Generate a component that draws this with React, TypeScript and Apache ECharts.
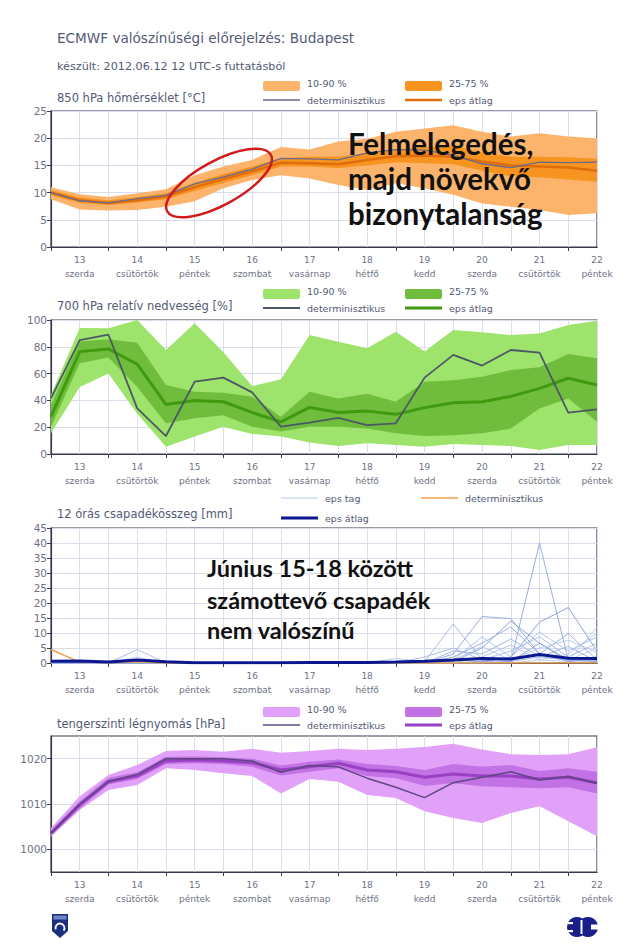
import React, { useEffect, useRef } from "react";
import * as echarts from "echarts";

// 12-hourly time steps from 2012.06.12 12 UTC
const timeSteps = [
  "06.12 12", "06.13 00", "06.13 12", "06.14 00", "06.14 12", "06.15 00", "06.15 12",
  "06.16 00", "06.16 12", "06.17 00", "06.17 12", "06.18 00", "06.18 12", "06.19 00",
  "06.19 12", "06.20 00", "06.20 12", "06.21 00", "06.21 12", "06.22 00",
];
const dayNumbers = ["13", "14", "15", "16", "17", "18", "19", "20", "21", "22"];
const dayNames = ["szerda", "csütörtök", "péntek", "szombat", "vasárnap", "hétfő", "kedd", "szerda", "csütörtök", "péntek"];

// 850 hPa temperature [°C]
const tempP10 = [8.8, 6.9, 6.7, 6.8, 7.4, 8.4, 10.8, 12.3, 13.2, 12.6, 11.4, 10.5, 11.7, 10.8, 9.6, 8.0, 7.4, 6.8, 5.9, 6.2];
const tempP90 = [11.0, 9.7, 9.2, 9.9, 10.6, 13.2, 14.8, 16.0, 18.4, 17.9, 19.4, 19.9, 21.2, 21.8, 22.4, 21.2, 20.3, 20.9, 20.3, 20.0];
const tempP25 = [9.5, 8.1, 7.7, 8.2, 8.8, 10.3, 11.8, 13.2, 14.8, 14.8, 14.5, 15.0, 15.6, 15.4, 15.2, 14.0, 13.0, 12.8, 12.4, 12.0];
const tempP75 = [10.5, 9.1, 8.6, 9.2, 9.9, 11.8, 13.4, 14.8, 16.3, 16.6, 16.6, 17.3, 18.0, 18.3, 18.7, 17.4, 16.6, 16.6, 16.5, 16.2];
const tempMean = [10.0, 8.6, 8.1, 8.6, 9.3, 11.0, 12.5, 13.9, 15.5, 15.4, 15.2, 16.0, 16.7, 16.8, 16.6, 15.7, 15.0, 14.8, 14.6, 14.0];
const tempDet = [10.0, 8.5, 8.1, 8.9, 9.5, 11.6, 12.9, 14.3, 16.3, 16.2, 16.0, 17.3, 17.9, 17.8, 16.9, 15.3, 14.6, 15.6, 15.5, 15.6];

// 700 hPa relative humidity [%]
const rhP10 = [15.4, 50, 60, 30, 5.5, 13, 20.4, 15, 13, 8.5, 6, 8, 6.7, 5.5, 7.5, 6.7, 6, 3, 6.7, 6.7];
const rhP90 = [44, 94, 93.8, 100, 77.6, 97.5, 76, 50.7, 55.7, 88.8, 83.8, 78.9, 91.3, 76.4, 92.5, 90.8, 88.8, 90, 96.3, 99.5];
const rhP25 = [20.4, 67.7, 72, 50, 23, 26.6, 29, 20.4, 16.7, 20.4, 20.4, 19, 15.4, 13.4, 14, 15.4, 19, 34, 41.5, 24];
const rhP75 = [36.6, 84, 85.6, 83, 51.5, 46.5, 45.8, 42.8, 27.8, 46.5, 41.5, 45, 39, 54, 55, 57.7, 62.7, 64.7, 74.6, 71.4];
const rhMean = [27.9, 76.4, 78.4, 67, 37, 40, 39, 31, 24, 34.8, 31, 32, 29.6, 34.6, 38.3, 39, 43, 49, 56.5, 51.5];
const rhDet = [41.5, 85, 89, 34, 13.4, 54, 57, 46, 20.4, 23.4, 27, 21.6, 22.9, 57, 74, 66, 77.6, 75.6, 30.8, 33.3];

// 12-hour precipitation [mm]
const precipMean = [0.6, 0.7, 0.3, 1.0, 0.4, 0.1, 0.1, 0.1, 0.1, 0.2, 0.2, 0.2, 0.3, 0.6, 1.0, 1.5, 1.3, 2.8, 1.6, 1.5];
const precipDet = [4.5, 0.3, 0.1, 0.4, 0, 0, 0, 0, 0, 0, 0, 0, 0, 0, 0, 0, 0, 0, 0, 0];
const member01 = [0, 0, 0, 0, 0, 0, 0, 0, 0, 0, 0, 0, 0, 0, 0, 0, 0.5, 40, 1, 0.5];
const member02 = [0, 0, 0, 0, 0, 0, 0, 0, 0, 0, 0, 0, 0, 0.5, 13, 1, 0.5, 2, 1, 0.5];
const member03 = [0, 0, 0, 0, 0, 0, 0, 0, 0, 0, 0, 0, 0, 0, 3, 15.5, 14.8, 3, 0.5, 1];
const member04 = [0, 0, 0, 0, 0, 0, 0, 0, 0, 0, 0, 0, 0, 0, 0, 0.5, 2, 13.6, 18.5, 4];
const member05 = [0, 0, 0, 0, 0, 0, 0, 0, 0, 0, 0, 0, 0, 0, 0, 0, 0, 1, 0.5, 12];
const member06 = [0, 0, 0, 0, 0, 0, 0, 0, 0, 0, 0, 0, 0, 0, 0.5, 5, 14, 6.6, 1, 2];
const member07 = [0, 0, 0, 0, 0, 0, 0, 0, 0, 0, 0, 0, 0, 0, 1, 8.7, 2, 10.3, 4, 8.7];
const member08 = [0, 0, 0, 0, 0, 0, 0, 0, 0, 0, 0, 0, 0, 0, 2, 6.6, 12, 3, 9.8, 1];
const member09 = [0, 0, 0, 4.5, 0, 0, 0, 0, 0, 0, 0, 0, 0, 2, 5, 1, 4, 8.7, 2, 6.6];
const member10 = [0, 0, 0, 0, 0, 0, 0, 0, 0, 0, 0, 0, 1.5, 0.5, 1, 5.5, 1, 5, 7.6, 3.5];
const member11 = [0, 0, 0, 0, 0, 0, 0, 0, 0, 0, 0, 0, 0, 0, 4, 3, 8, 2, 5.5, 0.5];
const member12 = [0, 0, 0, 0, 0, 0, 0, 0, 0, 0, 0, 0, 0, 0, 0, 2, 6, 1, 3, 10];
const member13 = [0, 0, 0, 0, 0, 0, 0, 0, 0, 0, 0, 0, 0, 0.3, 1, 0.5, 0.5, 6.6, 0.5, 2];
const member14 = [0, 0, 0, 2, 0, 0, 0, 0, 0, 0, 0, 0.5, 0, 0, 0, 0, 1, 3, 1, 5];
const precipMembers = [member01, member02, member03, member04, member05, member06, member07,
  member08, member09, member10, member11, member12, member13, member14];
const memberColors = ["#8ea6dc", "#9fb6e6", "#8ea6dc", "#7f9ad6", "#b7c9ef", "#7f9ad6", "#a9bdea",
  "#92aadf", "#a3b8e8", "#b3c6ee", "#9ab1e3", "#aec2ec", "#8ca5dc", "#bccdf0"];

// Mean sea level pressure [hPa]
const presP10 = [1002.8, 1008.7, 1013.1, 1014.2, 1017.9, 1017.5, 1016.8, 1016.2, 1012.3, 1015.5, 1014.9, 1012, 1011.3, 1008.4, 1006.9, 1005.8, 1008, 1009.5, 1006.2, 1002.9];
const presP90 = [1004.7, 1011.7, 1016.4, 1018.6, 1021.7, 1021.9, 1021.5, 1022.2, 1021.3, 1021.7, 1022.2, 1021.9, 1022.2, 1022.6, 1023.3, 1022, 1021, 1020.8, 1021, 1022.5];
const presP25 = [1003, 1009, 1014.3, 1015.5, 1018.8, 1019, 1018.8, 1018.2, 1016.3, 1017.1, 1017.9, 1016.2, 1015.7, 1014, 1014.6, 1013.9, 1013.7, 1013.5, 1013.7, 1012.3];
const presP75 = [1004.2, 1010.6, 1015.8, 1017, 1020.4, 1020.5, 1020.3, 1020, 1018.5, 1019.3, 1019.8, 1018.8, 1018.4, 1017.5, 1018.8, 1018.2, 1018.6, 1017.3, 1017.9, 1017.1];
const presMean = [1003.6, 1009.8, 1014.9, 1016.2, 1019.5, 1019.7, 1019.5, 1019.1, 1017.5, 1018.2, 1019, 1017.5, 1017.1, 1015.9, 1016.6, 1016.2, 1016.2, 1015.5, 1015.9, 1014.7];
const presDet = [1003.5, 1010, 1015, 1016.5, 1020, 1020, 1020, 1019.5, 1017, 1018.5, 1018.2, 1015.7, 1013.7, 1011.4, 1014.7, 1015.9, 1017.1, 1015.3, 1016.1, 1014.5];
const presLabels = [1000, 1010, 1020];

const FONT = "DejaVu Sans";
const TXT = "#535a74";
const AX = "#3a3a4c";
const GRIDC = "#dcdcec";
const NAVY = "#1b1f8a";

const panels = [
  { top: 111, height: 136, min: 0, max: 25, interval: 5 },
  { top: 320, height: 134, min: 0, max: 100, interval: 20 },
  { top: 528, height: 135, min: 0, max: 45, interval: 5 },
  { top: 736, height: 136, min: 995, max: 1025, interval: 5 },
];

function band(g: number, lower: number[], upper: number[], color: string, stack: string) {
  return [
    {
      type: "line", xAxisIndex: g, yAxisIndex: g, data: lower, stack, symbol: "none",
      lineStyle: { opacity: 0 }, silent: true, z: 2,
    },
    {
      type: "line", xAxisIndex: g, yAxisIndex: g, data: upper.map((u, i) => +(u - lower[i]).toFixed(2)),
      stack, symbol: "none", lineStyle: { opacity: 0 }, areaStyle: { color, opacity: 1 }, silent: true, z: 2,
    },
  ];
}

function line(g: number, data: number[], color: string, width: number, z = 3) {
  return {
    type: "line", xAxisIndex: g, yAxisIndex: g, data, symbol: "none", silent: true, z,
    lineStyle: { color, width },
  };
}

function legendPatch(x: number, y: number, color: string, label: string) {
  return [
    { type: "rect", shape: { x, y: y - 5, width: 37, height: 10, r: 2 }, style: { fill: color } },
    { type: "text", x: x + 44, y: y - 3, style: { text: label, fill: TXT, font: `9.5px "${FONT}"`, verticalAlign: "middle" } },
  ];
}
function legendLine(x: number, y: number, color: string, width: number, label: string) {
  return [
    { type: "line", shape: { x1: x, y1: y, x2: x + 37, y2: y }, style: { stroke: color, lineWidth: width } },
    { type: "text", x: x + 44, y, style: { text: label, fill: TXT, font: `9.5px "${FONT}"`, verticalAlign: "middle" } },
  ];
}
function txt(x: number, y: number, text: string, size: number, color = TXT) {
  return { type: "text", x, y, style: { text, fill: color, font: `${size}px "${FONT}"`, verticalAlign: "middle" } };
}
function bigTxt(x: number, y: number, text: string, size: number) {
  return {
    type: "text", x, y, z: 100,
    style: { text, fill: "#111111", font: `bold ${size}px Lato`, verticalAlign: "middle" },
  };
}

export default function App() {
  const ref = useRef<HTMLDivElement>(null);
  useEffect(() => {
    if (!ref.current) return;
    const chart = echarts.init(ref.current, undefined, { renderer: "svg" });

    const grid = panels.map((p) => ({
      left: 51, width: 546, top: p.top, height: p.height, show: true,
      borderColor: AX, borderWidth: 1.2, backgroundColor: "transparent",
    }));
    const xAxis = panels.map((_, g) => ({
      type: "category", gridIndex: g, data: timeSteps, boundaryGap: false,
      axisLine: { lineStyle: { color: AX, width: 1.2 } },
      axisTick: { show: true, interval: (i: number) => i % 2 === 0, length: 4, lineStyle: { color: AX } },
      axisLabel: {
        interval: (i: number) => i % 2 === 1,
        formatter: (_v: string, i: number) => `${dayNumbers[(i - 1) / 2]}\n${dayNames[(i - 1) / 2]}`,
        color: "#6e7184", fontSize: 9, lineHeight: 14, margin: 6, fontFamily: FONT,
      },
      splitLine: { show: true, interval: 0, lineStyle: { color: GRIDC, width: 1 } },
    }));
    const yAxis = panels.map((p, g) => {
      const base: any = {
        type: "value", gridIndex: g, min: p.min, max: p.max,
        axisLine: { show: true, lineStyle: { color: AX, width: 1.2 } },
        axisTick: { show: true, length: 4, lineStyle: { color: AX } },
        axisLabel: { color: "#6e7184", fontSize: 10.5, margin: 4, fontFamily: FONT, formatter: (v: number) => String(v) },
        splitLine: { show: true, lineStyle: { color: GRIDC, width: 1 } },
      };
      if (g === 3) {
        base.axisLabel.customValues = presLabels;
        base.axisTick.customValues = presLabels;
      } else {
        base.interval = p.interval;
      }
      return base;
    });

    const series: any[] = [
      ...band(0, tempP10, tempP90, "#fcb46d", "t1"),
      ...band(0, tempP25, tempP75, "#f7941f", "t2"),
      line(0, tempMean, "#e06d0d", 2.5),
      line(0, tempDet, "#6a6a8c", 1.3, 4),

      ...band(1, rhP10, rhP90, "#9de36c", "r1"),
      ...band(1, rhP25, rhP75, "#70bd3d", "r2"),
      line(1, rhMean, "#3f9a0e", 3),
      line(1, rhDet, "#4c5866", 1.8, 4),

      ...precipMembers.map((m, k) => line(2, m, memberColors[k], 0.9, 2)),
      line(2, precipDet, "#f0a048", 1.5, 3),
      line(2, precipMean, "#0b178f", 3, 4),

      ...band(3, presP10, presP90, "#e1a1f8", "p1"),
      ...band(3, presP25, presP75, "#c272e4", "p2"),
      line(3, presMean, "#9a40c4", 3),
      line(3, presDet, "#5d4780", 1.5, 4),
    ];

    const graphic: any[] = [
      txt(57, 38, "ECMWF valószínűségi előrejelzés: Budapest", 13.6),
      txt(57, 66, "készült: 2012.06.12 12 UTC-s futtatásból", 11.2),

      txt(57, 98, "850 hPa hőmérséklet [°C]", 11.5),
      ...legendPatch(263, 86, "#fcb46d", "10-90 %"),
      ...legendPatch(405, 86, "#f7941f", "25-75 %"),
      ...legendLine(263, 100, "#6a6a8c", 1.5, "determinisztikus"),
      ...legendLine(405, 100, "#e06d0d", 2.5, "eps átlag"),

      txt(57, 306, "700 hPa relatív nedvesség [%]", 11.5),
      ...legendPatch(263, 294, "#9de36c", "10-90 %"),
      ...legendPatch(405, 294, "#70bd3d", "25-75 %"),
      ...legendLine(263, 308, "#4c5866", 1.8, "determinisztikus"),
      ...legendLine(405, 308, "#3f9a0e", 3, "eps átlag"),

      txt(57, 514, "12 órás csapadékösszeg [mm]", 11.5),
      ...legendLine(281, 498, "#b7c9ef", 1, "eps tag"),
      ...legendLine(421, 498, "#f0a048", 1.5, "determinisztikus"),
      ...legendLine(281, 518, "#0b178f", 3, "eps átlag"),

      txt(57, 724, "tengerszinti légnyomás [hPa]", 11.5),
      ...legendPatch(263, 712, "#e1a1f8", "10-90 %"),
      ...legendPatch(405, 712, "#c272e4", "25-75 %"),
      ...legendLine(263, 725, "#5d4780", 1.5, "determinisztikus"),
      ...legendLine(405, 725, "#9a40c4", 3, "eps átlag"),

      bigTxt(348, 143, "Felmelegedés,", 29.5),
      bigTxt(348, 178, "majd növekvő", 29.5),
      bigTxt(348, 213, "bizonytalanság", 29.5),

      bigTxt(207, 568, "Június 15-18 között", 23.5),
      bigTxt(207, 600, "számottevő csapadék", 23.5),
      bigTxt(207, 630, "nem valószínű", 23.5),

      {
        type: "ellipse", x: 219, y: 183, rotation: 0.5, z: 100,
        shape: { cx: 0, cy: 0, rx: 59, ry: 22 },
        style: { fill: "none", stroke: "#d01c1c", lineWidth: 2.5 },
      },

      // OMSZ logo (left)
      {
        type: "polygon", z: 100,
        shape: { points: [[52, 914], [68, 914], [68, 931], [60, 938], [52, 931]] },
        style: { fill: "#1c2f7e" },
      },
      { type: "rect", z: 101, shape: { x: 53.5, y: 915.5, width: 13, height: 4 }, style: { fill: "#6f86c8" } },
      {
        type: "arc", z: 101, shape: { cx: 60, cy: 928, r: 4.5, startAngle: Math.PI * 0.9, endAngle: Math.PI * 2.2 },
        style: { stroke: "#ffffff", lineWidth: 1.8, fill: "none" },
      },

      // ECMWF logo (right)
      { type: "circle", z: 100, shape: { cx: 577, cy: 927, r: 10 }, style: { fill: NAVY } },
      { type: "circle", z: 100, shape: { cx: 588, cy: 927, r: 10 }, style: { fill: NAVY } },
      { type: "rect", z: 101, shape: { x: 591, y: 924.5, width: 9, height: 5 }, style: { fill: "#ffffff" } },
      { type: "rect", z: 101, shape: { x: 566, y: 922, width: 7, height: 2.2 }, style: { fill: "#ffffff" } },
      { type: "rect", z: 101, shape: { x: 566, y: 930, width: 7, height: 2.2 }, style: { fill: "#ffffff" } },
      { type: "rect", z: 101, shape: { x: 580.5, y: 920, width: 2, height: 14 }, style: { fill: "#ffffff" } },
    ];

    chart.setOption({
      animation: false,
      backgroundColor: "#ffffff",
      grid, xAxis, yAxis, series, graphic,
    });
    return () => chart.dispose();
  }, []);

  return <div ref={ref} style={{ position: "absolute", left: 0, top: 0, width: 640, height: 948 }} />;
}
